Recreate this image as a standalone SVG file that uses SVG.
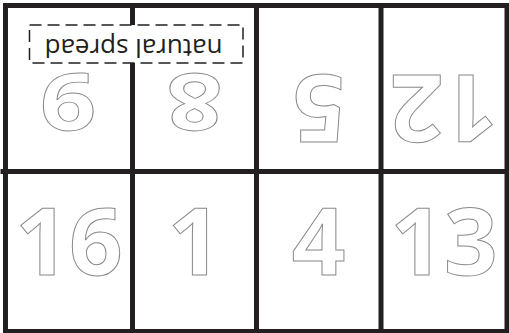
<svg xmlns="http://www.w3.org/2000/svg" width="509" height="333" viewBox="0 0 509 333">
<style>
.grid{stroke:#231f20;stroke-width:5;fill:none}
.num{font-family:"Open Sans","Noto Sans",sans-serif;font-weight:700;font-size:94px;fill:#fff;stroke:#8a8a8a;stroke-width:1;text-anchor:middle}
.lbl{font-family:"Open Sans","Noto Sans",sans-serif;font-size:26px;fill:#231f20;text-anchor:middle}
.box{fill:#fff;stroke:#231f20;stroke-width:1.5;stroke-dasharray:12 6}
</style>
<rect width="509" height="333" fill="#fff"/>
<g id="grid">
<rect class="grid" x="5.5" y="5.5" width="501.5" height="326"/>
<line class="grid" x1="0.5" y1="171.5" x2="509" y2="171.5"/>
<line class="grid" x1="132.5" y1="3" x2="132.5" y2="333"/>
<line class="grid" x1="256.5" y1="3" x2="256.5" y2="333"/>
<line class="grid" x1="381" y1="3" x2="381" y2="333"/>
</g>
<g id="page-9"><text class="num" transform="translate(68,74) scale(1.05,0.83) rotate(180)">9</text></g>
<g id="page-8"><text class="num" transform="translate(194.5,74) scale(1.05,0.83) rotate(180)">8</text></g>
<g id="page-5"><text class="num" transform="translate(318.5,75) rotate(180)">5</text></g>
<g id="page-12"><text class="num" transform="translate(444,75) rotate(180)">12</text></g>
<g id="page-16"><text class="num" x="69" y="275">16</text></g>
<g id="page-1"><text class="num" x="194.5" y="275">1</text></g>
<g id="page-4"><text class="num" x="318.5" y="275">4</text></g>
<g id="page-13"><text class="num" x="444" y="275">13</text></g>
<g id="natural-spread">
<rect class="box" x="29.5" y="25" width="213.5" height="38"/>
<text class="lbl" transform="translate(133.5,38.5) rotate(180)">natural spread</text>
</g>
</svg>
